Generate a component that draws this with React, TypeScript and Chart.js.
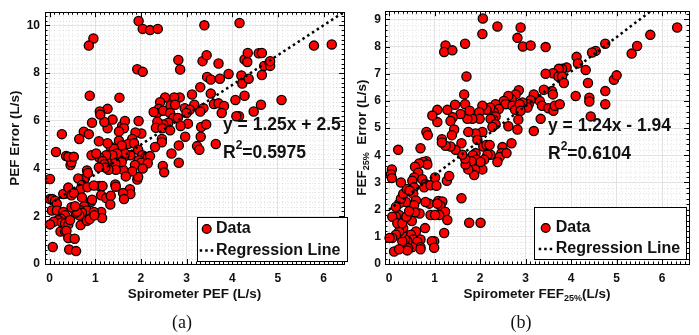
import React, { useEffect, useRef } from "react";
import { Chart, registerables } from "chart.js";

Chart.register(...registerables);

// ---------- Panel (a): PEF ----------
const pefX = [
  1.95, 2.04, 2.2, 2.37, 3.39, 4.16, 0.96, 0.86, 5.79, 6.18, 2.82, 2.86, 1.92, 2.04, 3.35, 3.44, 3.7, 3.92, 3.45, 3.53,
  3.73, 4.2, 4.27, 4.34, 4.33, 4.22, 4.36, 4.58, 4.65, 4.65, 4.7, 4.83, 4.83, 4.63, 4.07, 4.15, 4.27, 4.09, 5.08, 4.47,
  3.53, 3.6, 3.7, 3.82, 3.77, 3.3, 3.12, 3.17, 3.37, 3.3, 3.32, 3.43, 3.31, 3.23, 3.28, 3.64, 2.97, 3.03, 2.96, 3.07,
  3.0, 2.85, 2.73, 2.53, 2.42, 2.39, 2.36, 2.28, 2.49, 2.65, 2.75, 2.64, 2.71, 2.81, 2.6, 2.49, 2.36, 2.33, 2.47, 2.64,
  2.87, 2.46, 2.46, 2.83, 2.83, 2.67, 2.48, 2.51, 2.31, 1.95, 2.01, 1.88, 1.81, 1.72, 1.85, 1.94, 2.03, 2.11, 2.15, 2.2,
  1.95, 2.01, 2.15, 1.77, 1.87, 2.04, 1.92, 1.94, 1.81, 1.61, 1.67, 1.76, 1.77, 1.61, 1.63, 1.52, 1.63, 1.58, 1.65, 1.52,
  1.58, 1.59, 1.65, 1.63, 1.52, 1.53, 1.38, 1.34, 1.41, 1.48, 1.38, 1.44, 1.45, 1.44, 1.45, 1.29, 1.25, 1.24, 1.27, 1.27,
  1.2, 1.27, 1.1, 1.11, 1.08, 1.09, 1.16, 1.2, 1.22, 1.08, 1.09, 1.16, 1.13, 1.24, 1.34, 1.33, 1.13, 1.15, 0.88, 0.93,
  0.75, 0.86, 0.65, 0.92, 1.02, 0.82, 0.77, 0.84, 0.63, 0.71, 0.68, 0.83, 0.97, 0.71, 0.91, 0.93, 0.76, 0.7, 0.82, 0.71,
  0.65, 0.68, 0.82, 0.88, 0.97, 0.98, 0.57, 0.6, 0.48, 0.56, 0.46, 0.48, 0.36, 0.41, 0.53, 0.37, 0.3, 0.41, 0.48, 0.53,
  0.27, 0.14, 0.01, 0.01, 0.06, 0.12, 0.16, 0.05, 0.16, 0.3, 0.34, 0.25, 0.19, 0.09, 0.01, 0.27, 0.34, 0.41, 0.45, 0.24,
  0.34, 0.37, 0.41, 0.55, 0.07, 0.43, 0.58,
];
const pefY = [
  10.18, 9.85, 9.8, 9.85, 10.0, 10.1, 9.45, 9.15, 9.15, 9.2, 8.55, 8.15, 8.16, 8.05, 8.5, 8.75, 8.4, 7.96, 7.84, 7.73,
  7.76, 7.9, 8.57, 8.84, 8.46, 7.56, 7.76, 8.83, 8.84, 7.92, 8.3, 8.3, 8.5, 6.67, 6.87, 6.19, 7.05, 6.19, 6.87, 6.39,
  7.14, 6.7, 6.73, 6.62, 6.33, 7.41, 7.1, 6.67, 6.53, 6.39, 5.74, 5.85, 5.33, 4.94, 4.79, 5.03, 5.33, 5.88, 6.53, 6.46,
  6.33, 6.98, 6.98, 6.98, 6.78, 6.5, 6.33, 6.37, 6.42, 6.64, 6.67, 6.33, 6.12, 6.12, 5.92, 5.85, 5.96, 5.71, 5.69, 5.6,
  5.78, 5.24, 5.1, 4.97, 4.24, 4.63, 4.11, 3.84, 4.9, 5.99, 5.47, 5.51, 5.24, 5.03, 5.06, 4.79, 4.56, 4.49, 4.46, 4.52,
  4.35, 4.24, 4.22, 4.56, 4.15, 4.0, 3.54, 3.65, 3.88, 3.95, 3.67, 3.13, 2.93, 2.97, 2.72, 4.76, 4.49, 4.27, 4.63, 5.17,
  4.97, 5.78, 5.99, 5.69, 5.55, 6.97, 6.05, 4.9, 4.83, 4.63, 4.56, 4.22, 3.95, 3.33, 3.24, 3.95, 4.29, 4.56, 5.06, 5.69,
  5.95, 6.5, 6.39, 6.26, 5.14, 4.46, 4.31, 4.18, 4.04, 4.05, 3.27, 3.27, 2.88, 2.76, 2.86, 2.49, 2.18, 1.93, 7.05, 5.92,
  5.54, 5.44, 5.24, 4.56, 4.63, 3.92, 3.58, 3.81, 3.58, 3.31, 3.13, 3.22, 3.29, 2.79, 2.61, 2.69, 2.42, 2.24, 2.24, 2.15,
  2.04, 1.63, 1.81, 1.88, 2.18, 2.04, 2.15, 2.2, 2.38, 2.42, 4.15, 4.26, 4.52, 4.49, 4.49, 2.95, 2.93, 3.2, 2.88, 2.97,
  5.44, 4.69, 3.56, 2.72, 2.72, 2.65, 2.52, 2.24, 2.24, 2.18, 2.04, 1.9, 1.84, 1.77, 1.66, 1.74, 1.7, 1.66, 1.84, 1.36,
  1.36, 1.39, 1.09, 1.06, 0.71, 0.61, 0.54,
];
const pefXTicks = [0, 1, 2, 3, 4, 5, 6];
const pefYTicks = [0, 2, 4, 6, 8, 10];
const pefFitSlope = 1.25;
const pefFitIntercept = 2.5;

// ---------- Panel (b): FEF25% ----------
const fefX = [
  2.06, 2.05, 2.38, 2.82, 2.89, 2.94, 3.11, 3.44, 1.67, 1.24, 1.21, 1.39, 1.7, 1.65, 6.33, 5.74, 5.45, 5.33, 4.75, 4.54,
  4.46, 4.12, 4.15, 4.32, 4.37, 4.1, 4.4, 4.4, 4.43, 4.75, 4.75, 4.94, 5.0, 3.9, 3.8, 3.73, 3.6, 3.44, 3.72, 3.8,
  3.84, 3.58, 3.6, 3.4, 3.31, 3.36, 3.5, 3.61, 3.64, 3.75, 3.33, 3.18, 3.18, 3.11, 3.07, 3.04, 2.93, 2.85, 2.78, 2.69,
  2.62, 2.52, 2.56, 2.71, 2.77, 2.87, 2.89, 2.84, 2.82, 2.62, 2.69, 2.49, 2.47, 2.43, 2.38, 2.58, 2.34, 2.41, 2.3, 2.22,
  2.34, 2.29, 2.23, 2.34, 2.27, 2.14, 2.05, 1.98, 1.99, 2.05, 1.9, 1.94, 2.07, 2.14, 2.21, 2.23, 2.16, 2.09, 2.05, 1.9,
  1.84, 1.92, 2.01, 1.81, 1.89, 1.87, 1.74, 1.68, 1.67, 1.61, 1.59, 1.74, 1.83, 1.72, 1.67, 1.77, 1.57, 1.45, 1.4, 1.35,
  1.43, 1.38, 1.46, 1.35, 1.24, 1.16, 1.16, 1.28, 1.06, 1.06, 0.95, 0.82, 0.85, 0.69, 0.82, 0.75, 0.84, 0.66, 0.57, 0.64,
  0.55, 0.73, 0.51, 0.8, 0.77, 0.91, 1.01, 1.04, 1.27, 1.32, 1.08, 1.17, 1.13, 1.23, 1.1, 1.28, 1.21, 0.88, 0.8, 0.91,
  0.67, 0.79, 0.55, 0.53, 0.59, 0.55, 0.57, 0.5, 0.59, 0.48, 0.53, 0.69, 0.62, 0.69, 0.51, 0.4, 0.35, 0.42, 0.4, 0.29,
  0.29, 0.31, 0.26, 0.22, 0.15, 0.07, 0.01, 0.11, 0.22, 0.22, 0.15, 0.07, 0.18, 0.29, 0.38, 0.44, 0.37, 0.22, 0.15, 0.26,
  0.31, 0.39, 0.45, 0.26, 0.2, 0.06, 0.04, 0.06, 1.59, 1.76, 2.01, 1.06, 1.01, 0.99, 0.94, 0.99, 0.69,
];
const fefY = [
  9.03, 8.46, 8.74, 8.32, 8.7, 8.0, 8.04, 7.98, 8.1, 8.04, 7.8, 7.86, 6.9, 6.24, 8.7, 8.43, 8.02, 7.74, 8.1, 7.84,
  7.78, 7.62, 7.38, 7.14, 6.66, 6.18, 6.12, 5.98, 5.43, 5.88, 6.36, 6.78, 6.94, 7.23, 7.18, 7.18, 7.02, 7.0, 6.9, 6.9,
  6.66, 6.36, 6.24, 6.41, 6.0, 5.82, 5.73, 5.64, 5.82, 5.88, 5.34, 4.89, 6.24, 6.03, 5.88, 5.76, 5.94, 6.39, 6.24, 6.06,
  6.18, 6.0, 5.88, 5.82, 5.67, 5.88, 5.64, 5.31, 4.95, 5.07, 4.44, 4.3, 4.08, 3.94, 3.75, 4.08, 5.88, 5.7, 5.58, 5.76,
  5.43, 5.31, 5.34, 5.14, 5.04, 5.67, 5.82, 5.58, 5.34, 4.86, 4.8, 4.56, 4.32, 4.38, 4.38, 4.02, 4.02, 3.84, 3.48, 4.08,
  4.0, 3.84, 3.75, 3.78, 3.48, 3.27, 3.48, 3.66, 3.87, 4.02, 4.44, 4.86, 5.34, 5.34, 5.88, 5.64, 5.52, 5.86, 5.4, 5.26,
  4.95, 4.74, 4.2, 4.32, 4.35, 4.59, 4.47, 5.67, 5.67, 5.22, 5.46, 4.86, 4.74, 4.26, 3.78, 3.75, 3.66, 3.7, 3.58, 3.36,
  3.18, 3.12, 3.06, 2.94, 2.82, 2.9, 3.18, 2.88, 3.06, 3.24, 2.32, 2.3, 2.14, 1.92, 1.8, 1.62, 1.14, 2.22, 2.28, 1.8,
  1.86, 1.32, 2.82, 2.58, 2.34, 2.16, 1.9, 1.58, 1.2, 1.08, 0.9, 0.9, 0.82, 0.62, 0.62, 0.84, 0.9, 0.58, 0.5, 0.84,
  1.14, 1.32, 1.56, 1.2, 1.08, 0.96, 0.96, 0.46, 0.54, 1.8, 1.74, 1.74, 1.5, 1.5, 1.74, 1.94, 2.28, 2.22, 2.1, 2.4,
  2.58, 2.76, 2.7, 3.0, 4.2, 3.48, 3.3, 3.16, 2.42, 1.52, 1.52, 2.22, 1.8, 0.84, 0.84, 0.6, 0.54,
];
const fefXTicks = [0, 1, 2, 3, 4, 5, 6];
const fefYTicks = [0, 1, 2, 3, 4, 5, 6, 7, 8, 9];
const fefFitSlope = 1.27;
const fefFitIntercept = 2.0;

const SANS = "'Liberation Sans', Arial, Helvetica, sans-serif";

type Part = { t: string; m?: "sub" | "sup" };

function drawRich(
  ctx: CanvasRenderingContext2D,
  parts: Part[],
  x: number,
  y: number,
  size: number,
  align: "left" | "center",
  rotate = false
) {
  ctx.save();
  ctx.translate(x, y);
  if (rotate) ctx.rotate(-Math.PI / 2);
  ctx.textBaseline = "middle";
  ctx.textAlign = "left";
  ctx.fillStyle = "#111";
  const fontFor = (p: Part) => `bold ${p.m ? Math.round(size * 0.68) : size}px ${SANS}`;
  let total = 0;
  const widths = parts.map((p) => {
    ctx.font = fontFor(p);
    const w = ctx.measureText(p.t).width;
    total += w;
    return w;
  });
  let cx = align === "center" ? -total / 2 : 0;
  parts.forEach((p, i) => {
    ctx.font = fontFor(p);
    const dy = p.m === "sub" ? size * 0.32 : p.m === "sup" ? -size * 0.42 : 0;
    ctx.fillText(p.t, cx, dy);
    cx += widths[i];
  });
  ctx.restore();
}

type PanelProps = {
  xs: number[];
  ys: number[];
  xTicks: number[];
  yTicks: number[];
  xMin: number;
  xMax: number;
  yMin: number;
  yMax: number;
  slope: number;
  intercept: number;
  yMinorStep: number;
  width: number;
  left: number;
  yAxisWidth: number;
  padRight: number;
  yTickPad: number;
  yTitle: Part[];
  yTitleX: number;
  xTitle: Part[];
  eq: Part[];
  r2: Part[];
  eqX: number;
  eqY: number;
  r2Y: number;
  legend: { x: number; y: number; w: number; h: number; mx: number; dataY: number; lineY: number; textX: number };
};

function Panel(p: PanelProps) {
  const ref = useRef<HTMLCanvasElement | null>(null);
  useEffect(() => {
    const canvas = ref.current;
    if (!canvas) return;
    const points = p.xs.map((x, i) => ({ x, y: p.ys[i] }));
    const fitEnd = p.xMax;
    const fit = [
      { x: 0, y: p.intercept },
      { x: fitEnd, y: p.slope * fitEnd + p.intercept },
    ];
    const tickFont = { family: SANS, size: 12, weight: "bold" as const };

    const decor = {
      id: "decor",
      beforeDraw(chart: any) {
        const { ctx, chartArea: a, scales } = chart;
        const xs = scales.x;
        const ys = scales.y;
        ctx.save();
        ctx.strokeStyle = "rgba(0,0,0,0.10)";
        ctx.lineWidth = 1;
        ctx.setLineDash([1, 2]);
        for (let v = Math.ceil(p.xMin * 10) / 10; v <= p.xMax + 1e-9; v += 0.1) {
          const r = Math.round(v * 10) / 10;
          if (Math.abs(r - Math.round(r)) < 1e-6) continue;
          const px = Math.round(xs.getPixelForValue(r)) + 0.5;
          ctx.beginPath();
          ctx.moveTo(px, a.top);
          ctx.lineTo(px, a.bottom);
          ctx.stroke();
        }
        const st = p.yMinorStep;
        for (let v = Math.ceil(p.yMin / st) * st; v <= p.yMax + 1e-9; v += st) {
          const r = Math.round(v / st) * st;
          if (p.yTicks.some((t) => Math.abs(t - r) < 1e-6)) continue;
          const py = Math.round(ys.getPixelForValue(r)) + 0.5;
          ctx.beginPath();
          ctx.moveTo(a.left, py);
          ctx.lineTo(a.right, py);
          ctx.stroke();
        }
        ctx.restore();
      },
      afterDraw(chart: any) {
        const { ctx, chartArea: a, scales } = chart;
        const xs = scales.x;
        const ys = scales.y;
        ctx.save();
        // inward ticks
        ctx.strokeStyle = "#000";
        ctx.lineWidth = 1;
        ctx.setLineDash([]);
        for (let v = Math.ceil(p.xMin * 10) / 10; v <= p.xMax + 1e-9; v += 0.1) {
          const r = Math.round(v * 10) / 10;
          const major = Math.abs(r - Math.round(r)) < 1e-6;
          const len = major ? 5 : 2.5;
          const px = Math.round(xs.getPixelForValue(r)) + 0.5;
          ctx.beginPath();
          ctx.moveTo(px, a.bottom);
          ctx.lineTo(px, a.bottom - len);
          ctx.moveTo(px, a.top);
          ctx.lineTo(px, a.top + len);
          ctx.stroke();
        }
        const st = p.yMinorStep;
        for (let v = Math.ceil(p.yMin / st) * st; v <= p.yMax + 1e-9; v += st) {
          const r = Math.round(v / st) * st;
          const major = p.yTicks.some((t) => Math.abs(t - r) < 1e-6);
          const len = major ? 5 : 2.5;
          const py = Math.round(ys.getPixelForValue(r)) + 0.5;
          ctx.beginPath();
          ctx.moveTo(a.left, py);
          ctx.lineTo(a.left + len, py);
          ctx.moveTo(a.right, py);
          ctx.lineTo(a.right - len, py);
          ctx.stroke();
        }
        // frame
        ctx.strokeRect(Math.round(a.left) + 0.5, Math.round(a.top) + 0.5, Math.round(a.right - a.left), Math.round(a.bottom - a.top));

        // axis titles
        drawRich(ctx, p.yTitle, p.yTitleX, (a.top + a.bottom) / 2, 13.5, "center", true);
        drawRich(ctx, p.xTitle, (a.left + a.right) / 2, 294, 13.5, "center");

        // equation annotation
        drawRich(ctx, p.eq, p.eqX, p.eqY, 17.5, "left");
        drawRich(ctx, p.r2, p.eqX, p.r2Y, 17.5, "left");

        // legend
        const L = p.legend;
        ctx.fillStyle = "#fff";
        ctx.fillRect(L.x, L.y, L.w, L.h);
        ctx.strokeStyle = "#000";
        ctx.lineWidth = 1;
        ctx.strokeRect(L.x + 0.5, L.y + 0.5, L.w, L.h);
        ctx.beginPath();
        ctx.arc(L.mx, L.dataY, 4.4, 0, Math.PI * 2);
        ctx.fillStyle = "#ff0000";
        ctx.fill();
        ctx.lineWidth = 1.3;
        ctx.stroke();
        ctx.beginPath();
        ctx.setLineDash([2.5, 3]);
        ctx.lineWidth = 2.5;
        ctx.moveTo(L.mx - 7, L.lineY);
        ctx.lineTo(L.mx + 7, L.lineY);
        ctx.stroke();
        ctx.setLineDash([]);
        ctx.fillStyle = "#111";
        ctx.font = `bold 16px ${SANS}`;
        ctx.textBaseline = "middle";
        ctx.textAlign = "left";
        ctx.fillText("Data", L.textX, L.dataY);
        ctx.fillText("Regression Line", L.textX, L.lineY);
        ctx.restore();
      },
    };

    const chart = new Chart(canvas, {
      type: "scatter",
      data: {
        datasets: [
          {
            type: "line",
            label: "Regression Line",
            data: fit,
            borderColor: "#000",
            borderWidth: 2.5,
            borderDash: [2.5, 3.2],
            pointRadius: 0,
            fill: false,
            order: 0,
          } as any,
          {
            type: "scatter",
            label: "Data",
            data: points,
            backgroundColor: "#ff0000",
            borderColor: "#000",
            borderWidth: 1.3,
            pointRadius: 4.6,
            clip: false,
            order: 1,
          } as any,
        ],
      },
      options: {
        animation: false,
        responsive: false,
        maintainAspectRatio: false,
        devicePixelRatio: 1,
        events: [],
        layout: { padding: { left: 0, top: 5, right: p.padRight, bottom: 0 } },
        plugins: { legend: { display: false }, tooltip: { enabled: false } },
        scales: {
          x: {
            type: "linear",
            position: "bottom",
            min: p.xMin,
            max: p.xMax,
            afterBuildTicks: (s: any) => {
              s.ticks = p.xTicks.map((v) => ({ value: v }));
            },
            afterFit: (s: any) => {
              s.height = 71;
            },
            grid: { color: "#e2e2e2", lineWidth: 1, drawTicks: false },
            border: { display: false },
            ticks: { color: "#111", font: tickFont, padding: 7, maxRotation: 0, autoSkip: false },
          },
          y: {
            type: "linear",
            position: "left",
            min: p.yMin,
            max: p.yMax,
            afterBuildTicks: (s: any) => {
              s.ticks = p.yTicks.map((v) => ({ value: v }));
            },
            afterFit: (s: any) => {
              s.width = p.yAxisWidth;
            },
            grid: { color: "#e2e2e2", lineWidth: 1, drawTicks: false },
            border: { display: false },
            ticks: { color: "#111", font: tickFont, padding: p.yTickPad, autoSkip: false },
          },
        },
      },
      plugins: [decor],
    });
    return () => chart.destroy();
  }, []);
  return (
    <canvas
      ref={ref}
      width={p.width}
      height={335}
      style={{ position: "absolute", left: p.left, top: 0, width: p.width, height: 335 }}
    />
  );
}

export default function App() {
  const caption: React.CSSProperties = {
    position: "absolute",
    top: 310,
    width: 40,
    textAlign: "center",
    fontFamily: "'Liberation Serif', 'Times New Roman', serif",
    fontSize: 18,
    lineHeight: "24px",
    color: "#111",
  };
  return (
    <div style={{ position: "absolute", left: 0, top: 0, width: 699, height: 335, background: "#fff", overflow: "hidden" }}>
      <Panel
        xs={pefX}
        ys={pefY}
        xTicks={pefXTicks}
        yTicks={pefYTicks}
        xMin={-0.1}
        xMax={6.45}
        yMin={0}
        yMax={10.55}
        slope={pefFitSlope}
        intercept={pefFitIntercept}
        yMinorStep={0.2}
        width={350}
        left={0}
        yAxisWidth={45}
        padRight={2}
        yTickPad={5}
        yTitle={[{ t: "PEF Error (L/s)" }]}
        yTitleX={15}
        xTitle={[{ t: "Spirometer PEF (L/s)" }]}
        eq={[{ t: "y = 1.25x + 2.5" }]}
        r2={[{ t: "R" }, { t: "2", m: "sup" }, { t: "=0.5975" }]}
        eqX={223}
        eqY={125}
        r2Y={153}
        legend={{ x: 197, y: 217, w: 150, h: 44, mx: 206.7, dataY: 229, lineY: 250.5, textX: 216 }}
      />
      <Panel
        xs={fefX}
        ys={fefY}
        xTicks={fefXTicks}
        yTicks={fefYTicks}
        xMin={-0.09}
        xMax={6.59}
        yMin={0}
        yMax={9.3}
        slope={fefFitSlope}
        intercept={fefFitIntercept}
        yMinorStep={0.2}
        width={349}
        left={350}
        yAxisWidth={35}
        padRight={10}
        yTickPad={4}
        yTitle={[{ t: "FEF" }, { t: "25%", m: "sub" }, { t: "  Error (L/s)" }]}
        yTitleX={12}
        xTitle={[{ t: "Spirometer FEF" }, { t: "25%", m: "sub" }, { t: "(L/s)" }]}
        eq={[{ t: "y = 1.24x - 1.94" }]}
        r2={[{ t: "R" }, { t: "2", m: "sup" }, { t: "=0.6104" }]}
        eqX={198}
        eqY={126}
        r2Y={154}
        legend={{ x: 184, y: 207, w: 152, h: 52, mx: 195.7, dataY: 228, lineY: 249, textX: 205.7 }}
      />
      <div style={{ ...caption, left: 162 }}>(a)</div>
      <div style={{ ...caption, left: 501 }}>(b)</div>
    </div>
  );
}
